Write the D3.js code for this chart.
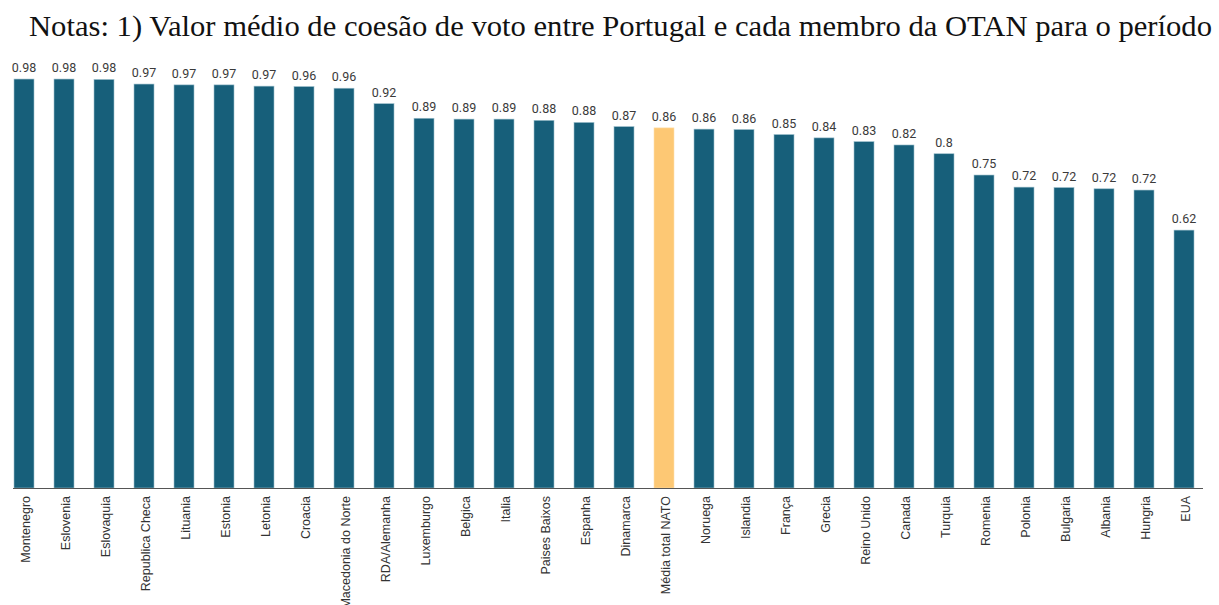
<!doctype html>
<html lang="pt">
<head>
    <meta charset="utf-8">
    <title>Coesão de voto Portugal - OTAN</title>
    <script src="https://d3js.org/d3.v7.min.js"></script>
    <style>
        body { margin: 0; background: #fff; }
        svg text.title { font-family: "Liberation Serif", "DejaVu Serif", serif; fill: #111; }
        svg text.value { font: 12.5px Roboto, sans-serif; fill: #3a3a3a; text-anchor: middle; }
        svg text.cat { font: 12.5px "Liberation Sans", Arial, sans-serif; fill: #333; text-anchor: end; }
    </style>
</head>
<body>
<div id="chart"></div>
<script>
    // Data
    var countries = ["Montenegro", "Eslovenia", "Eslovaquia", "Republica Checa", "Lituania", "Estonia",
        "Letonia", "Croacia", "Macedonia do Norte", "RDA/Alemanha", "Luxemburgo", "Belgica", "Italia",
        "Paises Baixos", "Espanha", "Dinamarca", "Média total NATO", "Noruega", "Islandia", "França",
        "Grecia", "Reino Unido", "Canada", "Turquia", "Romenia", "Polonia", "Bulgaria", "Albania",
        "Hungria", "EUA"];
    var cohesion = [0.980, 0.980, 0.979, 0.968, 0.966, 0.966, 0.963, 0.962, 0.958, 0.921, 0.886, 0.884,
        0.884, 0.881, 0.876, 0.866, 0.863, 0.860, 0.859, 0.847, 0.839, 0.830, 0.822, 0.801, 0.750,
        0.721, 0.720, 0.717, 0.714, 0.618];
    var valueLabels = ["0.98", "0.98", "0.98", "0.97", "0.97", "0.97", "0.97", "0.96", "0.96", "0.92",
        "0.89", "0.89", "0.89", "0.88", "0.88", "0.87", "0.86", "0.86", "0.86", "0.85", "0.84", "0.83",
        "0.82", "0.8", "0.75", "0.72", "0.72", "0.72", "0.72", "0.62"];
    var highlight = "Média total NATO";
    var title = "Notas: 1) Valor médio de coesão de voto entre Portugal e cada membro da OTAN para o período";

    var width = 1219, height = 605;
    var baseY = 488;

    var svg = d3.select("#chart").append("svg")
        .attr("width", width)
        .attr("height", height);

    // Title
    svg.append("text")
        .attr("class", "title")
        .attr("x", 29)
        .attr("y", 36)
        .attr("font-size", 29)
        .attr("textLength", 1183)
        .attr("lengthAdjust", "spacingAndGlyphs")
        .text(title);

    // Scales
    var x = d3.scaleBand()
        .domain(countries)
        .range([4, 1204])
        .paddingInner(0.5)
        .paddingOuter(0.25);

    var y = d3.scaleLinear()
        .domain([0, 1])
        .range([baseY, baseY - 417.3]);

    var data = countries.map(function(c, i) {
        return { name: c, value: cohesion[i], label: valueLabels[i] };
    });

    // Bars
    svg.selectAll("rect.bar")
        .data(data)
        .enter()
        .append("rect")
        .attr("class", "bar")
        .attr("x", function(d) { return x(d.name); })
        .attr("y", function(d) { return y(d.value); })
        .attr("width", x.bandwidth())
        .attr("height", function(d) { return baseY - y(d.value); })
        .attr("fill", function(d) { return d.name === highlight ? "#fdc874" : "#175f7a"; })
        .attr("stroke", function(d) { return d.name === highlight ? "#fde0b0" : "#9cbfcc"; })
        .attr("stroke-width", 0.6);

    // Value labels
    svg.selectAll("text.value")
        .data(data)
        .enter()
        .append("text")
        .attr("class", "value")
        .attr("x", function(d) { return x(d.name) + x.bandwidth() / 2; })
        .attr("y", function(d) { return y(d.value) - 7; })
        .text(function(d) { return d.label; });

    // Baseline
    svg.append("line")
        .attr("x1", 13)
        .attr("x2", 1203)
        .attr("y1", baseY + 0.5)
        .attr("y2", baseY + 0.5)
        .attr("stroke", "#555")
        .attr("stroke-width", 1);

    // Category labels, rotated
    svg.selectAll("text.cat")
        .data(data)
        .enter()
        .append("text")
        .attr("class", "cat")
        .attr("transform", function(d) {
            var cx = x(d.name) + x.bandwidth() / 2 + 2;
            return "translate(" + cx + "," + 496 + ") rotate(-90)";
        })
        .attr("dy", "0.35em")
        .text(function(d) { return d.name; });
</script>
</body>
</html>
